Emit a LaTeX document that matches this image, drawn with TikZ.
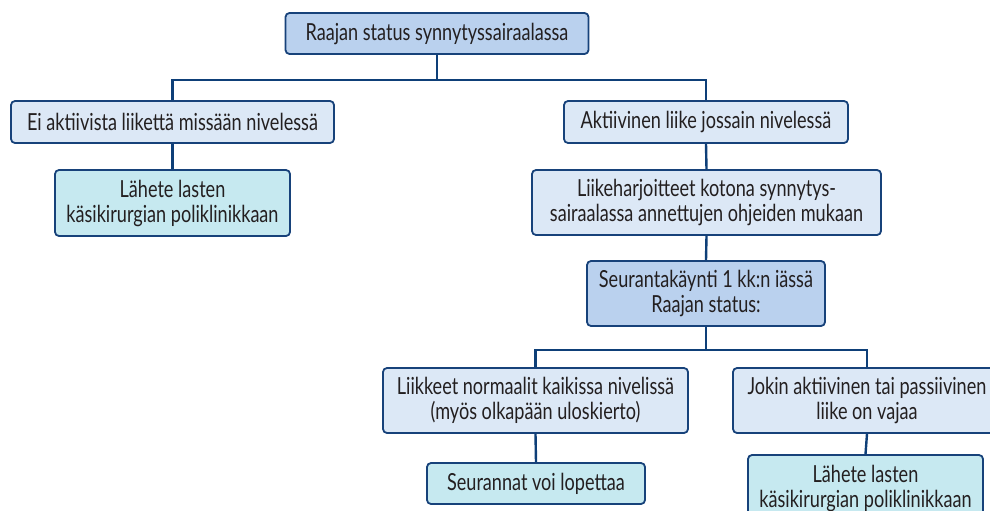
\documentclass[tikz,border=0pt]{standalone}
\usepackage{fontspec}
\setmainfont[FakeStretch=0.77]{Lato}
\begin{document}
\begin{tikzpicture}[x=1pt,y=-1pt,
  txt/.style={text=textgray,font=\fontsize{23.5}{25}\selectfont,align=center},
  box/.style={txt,draw=boxborder,line width=1.8pt,rounded corners=4pt,inner sep=0pt},
  midbox/.style={box,fill=midblue},
  lightbox/.style={box,fill=lightblue},
  tealbox/.style={box,fill=tealfill},
  conn/.style={draw=linecol,line width=2.4pt}]
\definecolor{textgray}{HTML}{231F20}
\definecolor{boxborder}{HTML}{17427A}
\definecolor{linecol}{HTML}{0E3F78}
\definecolor{midblue}{HTML}{BAD1EE}
\definecolor{lightblue}{HTML}{DCE8F6}
\definecolor{tealfill}{HTML}{C6E9F0}
\useasboundingbox (0,0) rectangle (990,511);
\clip (0,0) rectangle (990,511);

\coordinate (j1) at (437,80);
\coordinate (j2) at (706,350);

\node[midbox,minimum width=303pt,minimum height=41pt] (top) at (437,33.5) {Raajan status synnytyssairaalassa};
\node[lightbox,minimum width=323pt,minimum height=42pt] (L1) at (172.5,122) {Ei aktiivista liikettä missään nivelessä};
\node[tealbox,minimum width=235pt,minimum height=66pt] (L2) at (172.5,203) {Lähete lasten\\käsikirurgian poliklinikkaan};
\node[lightbox,minimum width=284pt,minimum height=42pt] (R1) at (706,122) {Aktiivinen liike jossain nivelessä};
\node[lightbox,minimum width=349pt,minimum height=65pt] (R2) at (706.5,202.5) {Liikeharjoitteet kotona synnytys-\\sairaalassa annettujen ohjeiden mukaan};
\node[midbox,minimum width=238pt,minimum height=65pt] (R3) at (706,293.5) {Seurantakäynti 1 kk:n iässä\\Raajan status:};
\node[lightbox,minimum width=305pt,minimum height=65pt] (RL1) at (535.5,400.5) {Liikkeet normaalit kaikissa nivelissä\\(myös olkapään uloskierto)};
\node[tealbox,minimum width=218pt,minimum height=41pt] (RL2) at (536,483.5) {Seurannat voi lopettaa};
\node[lightbox,minimum width=268pt,minimum height=65pt] (RR1) at (867,400.5) {Jokin aktiivinen tai passiivinen\\liike on vajaa};
\node[tealbox,minimum width=235pt,minimum height=66pt] (RR2) at (865.5,488) {Lähete lasten\\käsikirurgian poliklinikkaan};

\draw[conn] (top.south) -- (j1);
\draw[conn] (L1.north) |- (j1) -| (R1.north);
\draw[conn] (L1.south) -- (L2.north);
\draw[conn] (R1.south) -- (R2.north);
\draw[conn] (R2.south) -- (R3.north);
\draw[conn] (R3.south) -- (j2);
\draw[conn] (RL1.north) |- (j2) -| (RR1.north);
\draw[conn] (RL1.south) -- (RL2.north);
\draw[conn] (RR1.south) -- (RR2.north);
\end{tikzpicture}
\end{document}
